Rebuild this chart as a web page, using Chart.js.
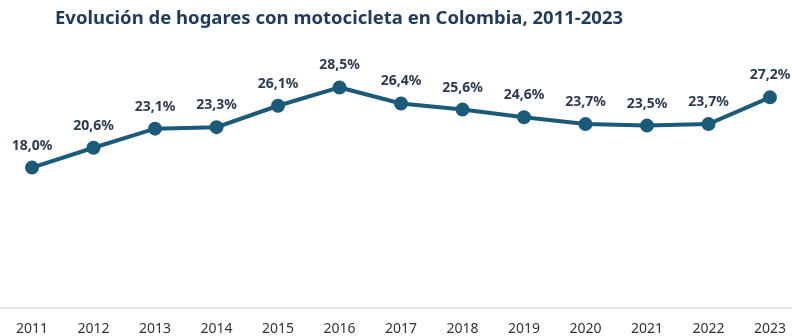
<!DOCTYPE html>
<html>
<head>
<meta charset="utf-8">
<script src="https://cdn.jsdelivr.net/npm/chart.js@4"></script>
<style>
  html, body { margin: 0; padding: 0; background: #fff; }
  #wrap { position: relative; width: 792px; height: 336px; }
  #title {
    position: absolute; left: 55px; top: 6px;
    font-family: "Noto Sans", sans-serif; font-weight: bold; font-size: 18.5px;
    line-height: 1.2; color: #1f3b5c; white-space: nowrap;
  }
</style>
</head>
<body>
<div id="wrap">
  <div id="title">Evolución de hogares con motocicleta en Colombia, 2011-2023</div>
  <canvas id="motoChart" width="792" height="336"></canvas>
</div>
<script>
const years = ["2011", "2012", "2013", "2014", "2015", "2016", "2017", "2018", "2019", "2020", "2021", "2022", "2023"];
const hogares = [18.0, 20.6, 23.1, 23.3, 26.1, 28.5, 26.4, 25.6, 24.6, 23.7, 23.5, 23.7, 27.2];

const lineColor = "#1c5a7a";

// etiquetas de valor encima de cada punto
const valueLabels = {
  id: "valueLabels",
  afterDatasetsDraw(chart) {
    const ctx = chart.ctx;
    const meta = chart.getDatasetMeta(0);
    ctx.save();
    ctx.font = "bold 14px 'Noto Sans', sans-serif";
    ctx.fillStyle = "#2d3b50";
    ctx.textAlign = "center";
    ctx.textBaseline = "middle";
    meta.data.forEach((pt, i) => {
      const txt = hogares[i].toFixed(1).replace(".", ",") + "%";
      ctx.fillText(txt, pt.x, pt.y - 22);
    });
    ctx.restore();
  }
};

// línea gris de base a todo lo ancho
const baseLine = {
  id: "baseLine",
  beforeDatasetsDraw(chart) {
    const ctx = chart.ctx;
    const y = chart.scales.y.getPixelForValue(0) + 3;
    ctx.save();
    ctx.strokeStyle = "#d9d9d9";
    ctx.lineWidth = 1.5;
    ctx.beginPath();
    ctx.moveTo(0, y);
    ctx.lineTo(chart.width, y);
    ctx.stroke();
    ctx.restore();
  }
};

new Chart(document.getElementById("motoChart"), {
  type: "line",
  data: {
    labels: years,
    datasets: [{
      data: hogares,
      borderColor: lineColor,
      backgroundColor: lineColor,
      borderWidth: 4,
      pointRadius: 5,
      pointHoverRadius: 5,
      tension: 0
    }]
  },
  options: {
    responsive: false,
    animation: false,
    layout: { padding: { top: 76, left: 32, right: 22, bottom: 0 } },
    plugins: {
      legend: { display: false },
      tooltip: { enabled: false }
    },
    scales: {
      x: {
        offset: false,
        grid: { display: false, drawTicks: false },
        border: { display: false },
        afterFit(scale) { scale.height = 31; scale.paddingRight = 0; },
        ticks: {
          padding: 16,
          color: "#333333",
          font: { family: "'Noto Sans', sans-serif", size: 14 },
          maxRotation: 0,
          autoSkip: false
        }
      },
      y: {
        display: false,
        min: 0,
        max: 30
      }
    }
  },
  plugins: [baseLine, valueLabels]
});
</script>
</body>
</html>
